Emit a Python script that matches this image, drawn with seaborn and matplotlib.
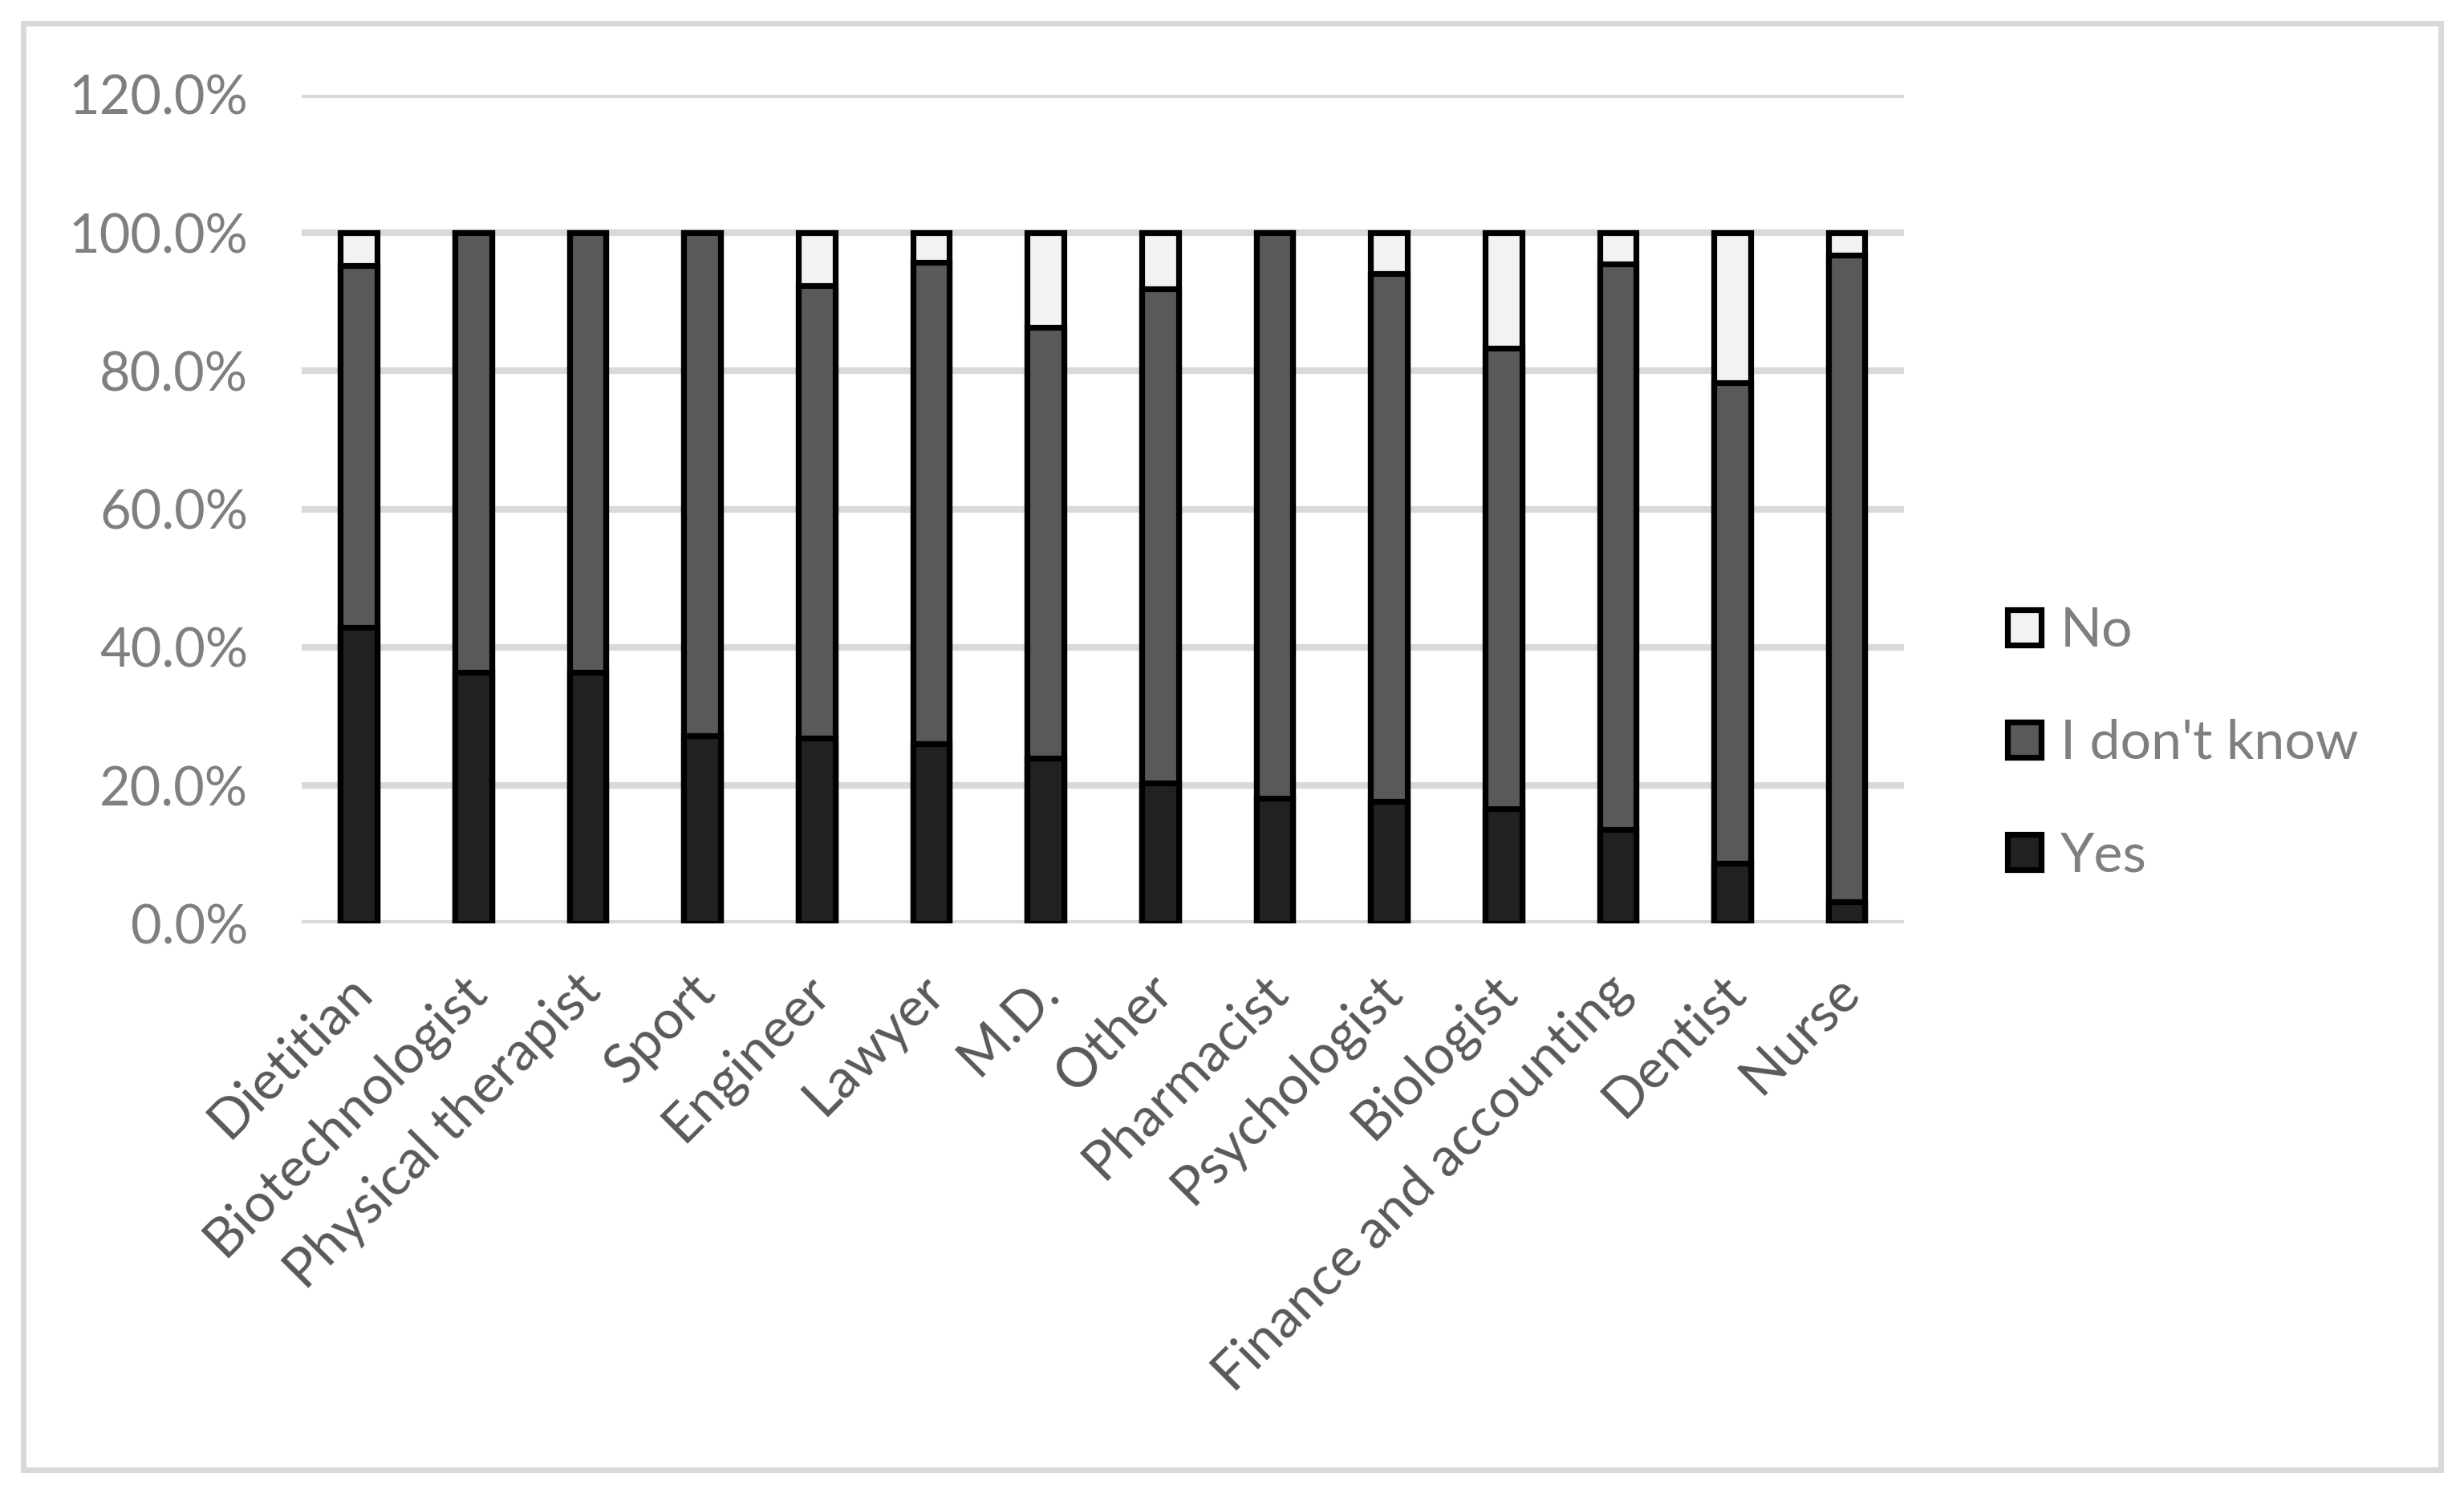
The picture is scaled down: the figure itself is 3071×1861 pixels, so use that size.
import matplotlib.pyplot as plt
import matplotlib.transforms as mtransforms
import numpy as np
import pandas as pd
import seaborn as sns
from matplotlib.patches import Patch, Rectangle
from matplotlib.ticker import PercentFormatter


categories = [
    "Dietitian", "Biotechnologist", "Physical therapist", "Sport", "Engineer",
    "Lawyer", "M.D.", "Other", "Pharmacist", "Psychologist", "Biologist",
    "Finance and accounting", "Dentist", "Nurse",
]
yes_pct = [42.86, 36.36, 36.36, 27.27, 26.92, 26.09, 24.0, 20.4, 18.18, 17.65, 16.67, 13.64, 8.70, 3.23]
idk_pct = [52.38, 63.64, 63.64, 72.73, 65.38, 69.57, 62.3, 71.5, 81.82, 76.47, 66.67, 81.82, 69.57, 93.55]
no_pct = [4.76, 0.0, 0.0, 0.0, 7.70, 4.34, 13.7, 8.1, 0.0, 5.88, 16.66, 4.54, 21.73, 3.22]

colors = {"Yes": "#212121", "I don't know": "#595959", "No": "#f2f2f2"}

df = pd.DataFrame({
    "job": categories,
    "Yes": np.array(yes_pct) / 100,
    "I don't know": np.array(idk_pct) / 100,
    "No": np.array(no_pct) / 100,
})
# cumulative tops for the stacked look
df["top_no"] = df["Yes"] + df["I don't know"] + df["No"]
df["top_idk"] = df["Yes"] + df["I don't know"]
df["top_yes"] = df["Yes"]

sns.set_theme(style="white")
plt.rcParams["font.family"] = ["Lato", "DejaVu Sans"]

fig = plt.figure(figsize=(15.355, 9.305), dpi=200)
ax = fig.add_axes([0.1224, 0.3813, 0.6503, 0.5554])

for col, name in [("top_no", "No"), ("top_idk", "I don't know"), ("top_yes", "Yes")]:
    sns.barplot(
        data=df, x="job", y=col, order=categories,
        color=colors[name], saturation=1, width=0.32,
        edgecolor="black", linewidth=2.6, ax=ax, zorder=3,
    )

ax.set_ylim(0, 1.2)
ax.set_xlim(-0.5, len(categories) - 0.5)
ax.set_yticks(np.arange(0, 1.21, 0.2))
ax.yaxis.set_major_formatter(PercentFormatter(1.0, decimals=1))
ax.grid(axis="y", color="#d9d9d9", linewidth=3.0, zorder=0)
ax.grid(axis="x", visible=False)
for s in ax.spines.values():
    s.set_visible(False)
ax.set_xlabel("")
ax.set_ylabel("")
ax.tick_params(axis="y", length=0, pad=24, labelsize=24, labelcolor="#7f7f7f")
ax.tick_params(axis="x", length=0, pad=20, labelsize=24.5, labelcolor="#595959")
shift = mtransforms.ScaledTranslation(-0.08, 0.02, fig.dpi_scale_trans)
for lbl in ax.get_xticklabels():
    lbl.set_rotation(45)
    lbl.set_ha("right")
    lbl.set_rotation_mode("anchor")
    lbl.set_transform(lbl.get_transform() + shift)

handles = [Patch(facecolor=colors[n], edgecolor="black", linewidth=2.6) for n in ["No", "I don't know", "Yes"]]
fig.legend(
    handles, ["No", "I don't know", "Yes"],
    loc="center left", bbox_to_anchor=(0.8147, 0.502), frameon=False,
    fontsize=24.5, labelcolor="#7f7f7f", handlelength=0.62, handleheight=0.62,
    handletextpad=0.35, labelspacing=1.15, borderpad=0, borderaxespad=0,
)

# light outer frame around the chart area
fig.patches.append(Rectangle((0.0095, 0.0156), 0.981, 0.9688, transform=fig.transFigure,
                             fill=False, edgecolor="#d9d9d9", linewidth=2.5))

fig.savefig("out.png", dpi=200, facecolor="white")
